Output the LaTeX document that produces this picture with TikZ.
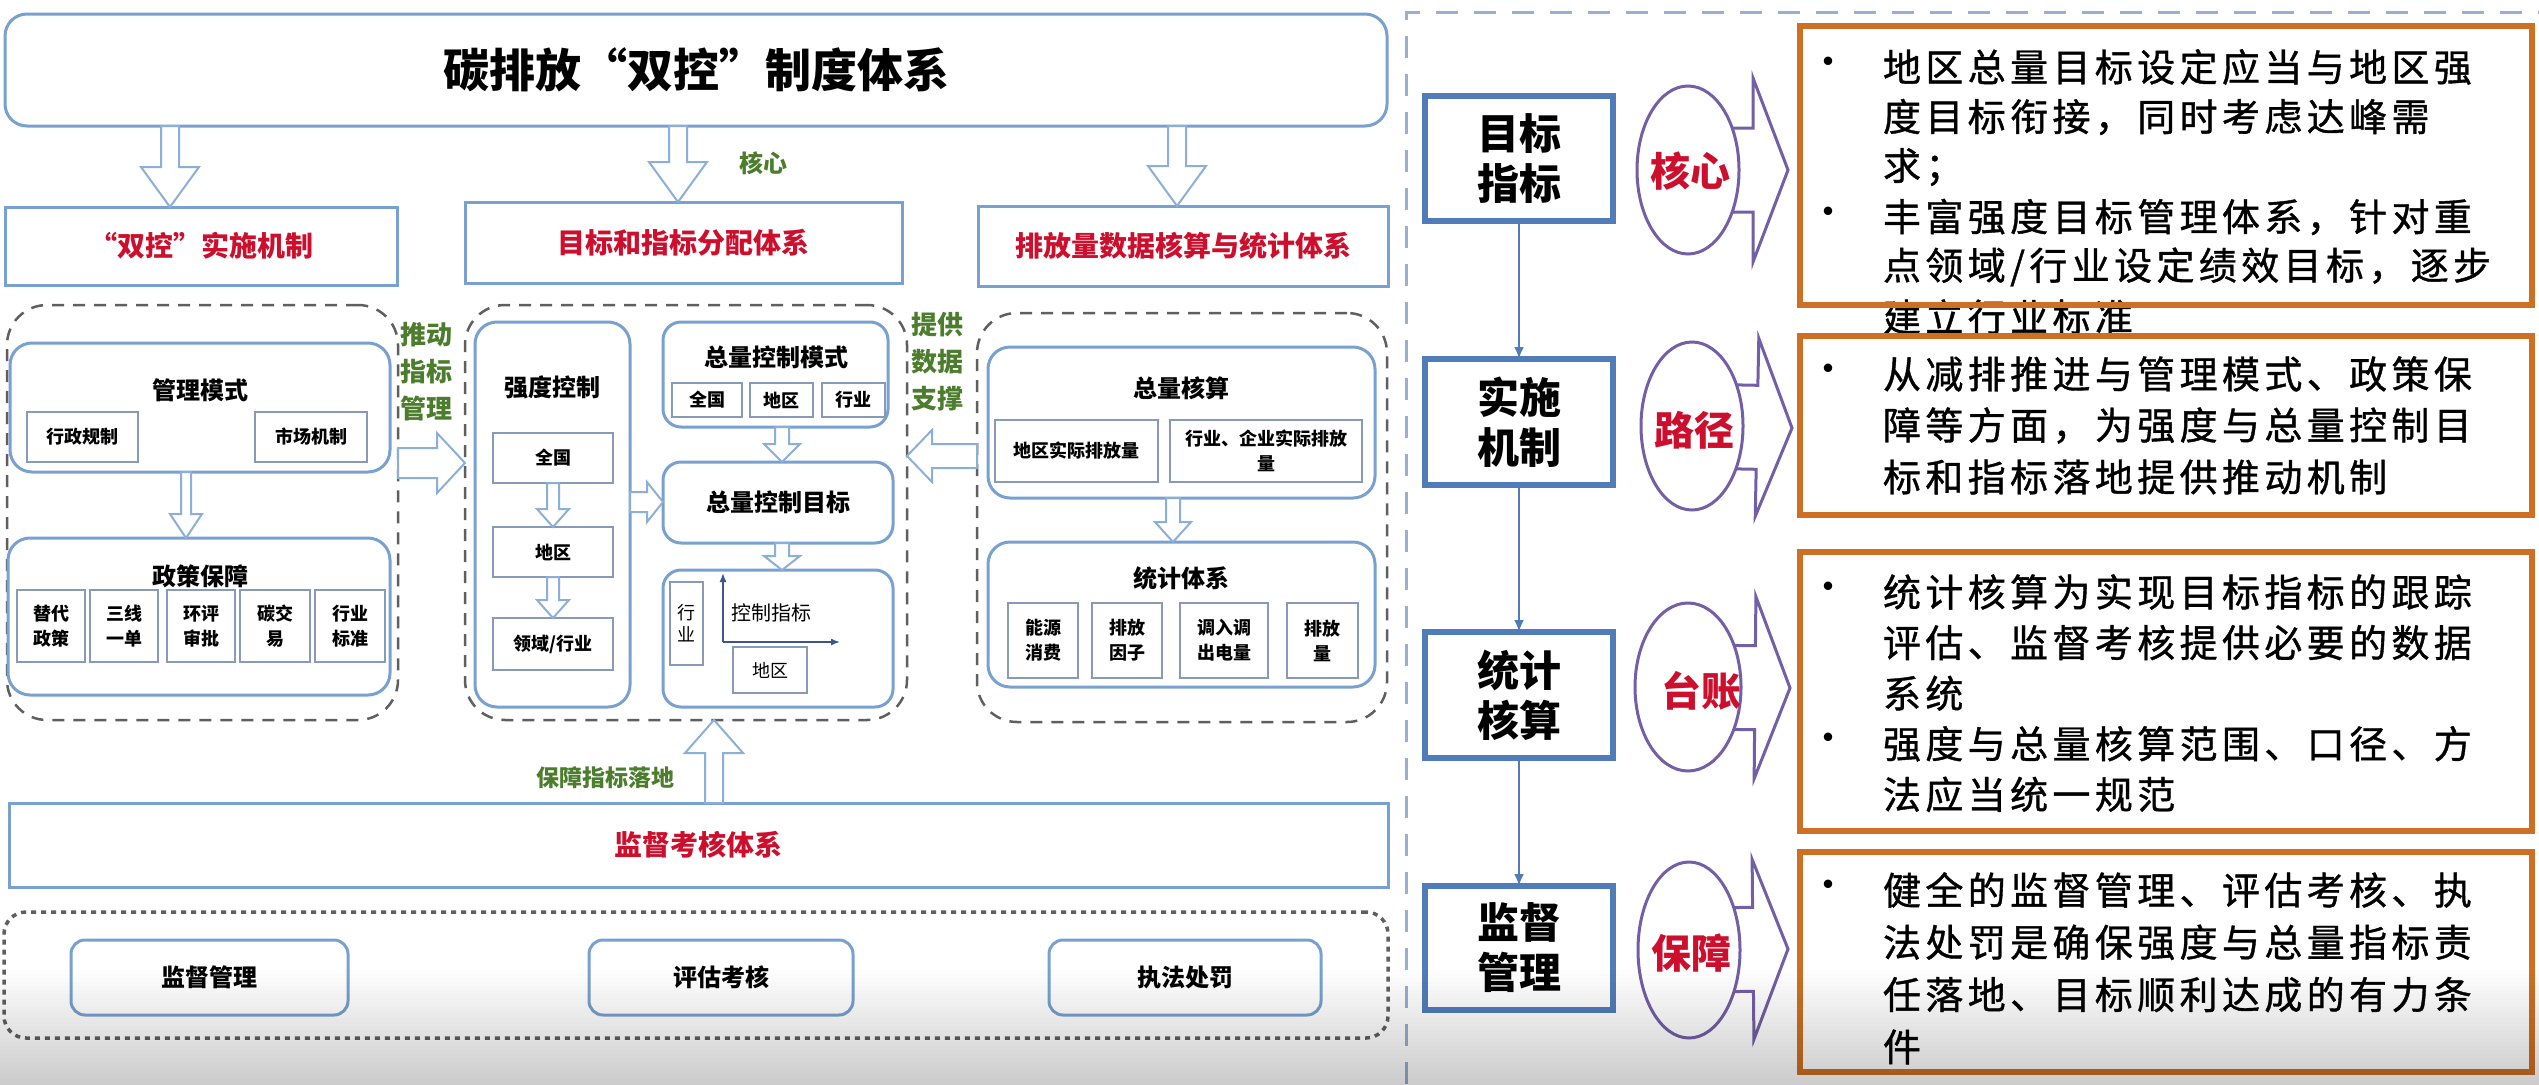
\documentclass[tikz,border=0pt]{standalone}
\usepackage{fontspec}
\setmainfont{Noto Sans CJK SC}
\newfontfamily\rfont{Noto Sans CJK SC}[FakeBold=1,LetterSpace=11.5]
\usetikzlibrary{calc,shapes.geometric,arrows.meta}
\definecolor{bl}{RGB}{120,160,208}
\definecolor{blA}{RGB}{140,175,215}
\definecolor{gbx}{RGB}{135,155,185}
\definecolor{dg}{RGB}{95,95,95}
\definecolor{rd}{RGB}{205,15,45}
\definecolor{gn}{RGB}{75,125,45}
\definecolor{bb}{RGB}{80,125,185}
\definecolor{og}{RGB}{205,112,35}
\definecolor{pu}{RGB}{115,95,165}
\definecolor{sepc}{RGB}{150,175,210}
\definecolor{axc}{RGB}{60,85,140}
\newcommand\F[2]{\fontsize{#1}{#2}\selectfont}
% box from corners: style, name, x1, y1, x2, y2, text
\newcommand\bx[7]{\node[#1, minimum width={(#5-#3)*1pt}, minimum height={(#6-#4)*1pt}] (#2) at ({(#3+#5)/2},{(#4+#6)/2}) {#7};}
% hollow block arrow: start, tip, half shaft, half head, head length, style
\newcommand\blk[6]{%
  \coordinate (bS) at #1; \coordinate (bE) at #2;
  \coordinate (bH) at ($(bE)!#5!(bS)$);
  \draw[#6] ($(bS)!#3!90:(bE)$) -- ($(bH)!#3!-90:(bS)$) -- ($(bH)!#4!-90:(bS)$) -- (bE)
    -- ($(bH)!#4!90:(bS)$) -- ($(bH)!#3!90:(bS)$) -- ($(bS)!#3!-90:(bE)$) -- cycle;}
\tikzset{
 every node/.style={inner sep=0pt, outer sep=0pt},
 ttl/.style={draw=bl, line width=3pt, rounded corners=22pt, fill=white, font={\F{46}{50}\bfseries}},
 hdr/.style={draw=bl, line width=3pt, fill=white, font={\F{28}{32}\bfseries}, text=rd},
 cont/.style={draw=dg, line width=2.5pt, dash pattern=on 12pt off 9pt, rounded corners=40pt},
 dotc/.style={draw=dg, line width=3.5pt, dash pattern=on 5pt off 5pt, rounded corners=22pt},
 rbox/.style={draw=bl, line width=3pt, rounded corners=22pt, fill=white},
 sbox/.style={draw=gbx, line width=1.6pt, fill=white, font={\F{18}{25}\bfseries}, align=center},
 sreg/.style={sbox, font={\F{18}{22}}},
 h24/.style={font={\F{24}{28}\bfseries}},
 grn/.style={text=gn, font={\F{26}{37}\bfseries}, align=center},
 blk/.style={draw=blA, line width=2pt, fill=white, line join=miter},
 parr/.style={draw=pu, line width=3pt, fill=white, line join=miter},
 axl/.style={draw=axc, line width=1.6pt, -{Latex[length=9pt,width=7pt]}},
 rb/.style={draw=bb, line width=6pt, fill=white, font={\F{42}{50}\bfseries}, align=center},
 bbl/.style={draw=bb, line width=2.5pt, -{Latex[length=12pt,width=10pt]}},
 ell/.style={ellipse, draw=pu, line width=3pt, fill=white, minimum width=102pt, minimum height=168pt},
 red40/.style={text=rd, font={\F{40}{44}\bfseries}},
 ob/.style={draw=og, line width=6pt},
 rtxt/.style={font={\rfont\F{38}{49}}, anchor=west},
 bul/.style={font={\F{40}{49}}, anchor=center}
}
\begin{document}
\begin{tikzpicture}[x=1pt,y=-1pt]
\fill[white] (0,0) rectangle (2539,1084);
\useasboundingbox (0,0) rectangle (2539,1084);

% ---------- left: top level ----------
\bx{ttl}{title}{5}{14}{1387}{126}{碳排放“双控”制度体系}
\bx{hdr}{h1}{5}{207}{397}{285}{“双控”实施机制}
\bx{hdr}{h2}{465}{202}{902}{283}{目标和指标分配体系}
\bx{hdr}{h3}{978}{206}{1388}{286}{排放量数据核算与统计体系}
\coordinate (a1) at (170,0);
\coordinate (a2) at (678,0);
\coordinate (a3) at (1177,0);
\blk{(a1 |- title.south)}{(a1 |- h1.north)}{9pt}{29pt}{40pt}{blk}
\blk{(a2 |- title.south)}{(a2 |- h2.north)}{9pt}{29pt}{40pt}{blk}
\blk{(a3 |- title.south)}{(a3 |- h3.north)}{9pt}{29pt}{40pt}{blk}
\node[grn, font={\F{24}{28}\bfseries}] (kx) at (763,163) {核心};

% ---------- left container ----------
\bx{cont}{lc}{7}{305}{398}{720}{}
\bx{rbox}{mg}{10}{343}{390}{472}{}
\node[h24] (mgt) at (200,390) {管理模式};
\bx{sbox}{xz}{27}{412}{138}{462}{行政规制}
\bx{sbox}{sc}{255}{412}{367}{462}{市场机制}
\bx{rbox}{pol}{8}{538}{390}{695}{}
\node[h24] (polt) at (200,576) {政策保障};
\bx{sbox}{p1}{17}{590}{85}{662}{替代\\政策}
\bx{sbox}{p2}{90}{590}{158}{662}{三线\\一单}
\bx{sbox}{p3}{167}{590}{235}{662}{环评\\审批}
\bx{sbox}{p4}{240}{590}{310}{662}{碳交\\易}
\bx{sbox}{p5}{315}{590}{385}{662}{行业\\标准}
\coordinate (a4) at (186,0);
\blk{(a4 |- mg.south)}{(a4 |- pol.north)}{5pt}{16pt}{24pt}{blk}
\node[grn] (td) at (426,372) {推动\\指标\\管理};

% ---------- middle container ----------
\bx{cont}{mc}{465}{305}{907}{720}{}
\coordinate (a5) at (0,463);
\blk{(lc.east |- a5)}{(mc.west |- a5)}{15pt}{30pt}{28pt}{blk}
\bx{rbox}{qd}{475}{322}{630}{707}{}
\node[h24] (qdt) at (552,387) {强度控制};
\bx{sbox}{q1}{493}{433}{613}{483}{全国}
\bx{sbox}{q2}{493}{527}{613}{577}{地区}
\bx{sbox}{q3}{493}{618}{613}{670}{领域/行业}
\coordinate (a6) at (553,0);
\blk{(a6 |- q1.south)}{(a6 |- q2.north)}{6pt}{16pt}{18pt}{blk}
\blk{(a6 |- q2.south)}{(a6 |- q3.north)}{6pt}{16pt}{18pt}{blk}
\bx{rbox, rounded corners=18pt}{zm}{663}{322}{888}{427}{}
\node[h24] (zmt) at (776,357) {总量控制模式};
\bx{sbox}{z1}{672}{383}{742}{417}{全国}
\bx{sbox}{z2}{750}{383}{813}{417}{地区}
\bx{sbox}{z3}{822}{383}{885}{417}{行业}
\bx{rbox, rounded corners=18pt, h24}{zg}{663}{462}{893}{543}{总量控制目标}
\bx{rbox, rounded corners=18pt}{zb}{663}{570}{893}{707}{}
\coordinate (a7) at (782,0);
\blk{(a7 |- zm.south)}{(a7 |- zg.north)}{7pt}{18pt}{18pt}{blk}
\blk{(a7 |- zg.south)}{(a7 |- zb.north)}{7pt}{18pt}{14pt}{blk}
\coordinate (a8) at (0,502);
\blk{(qd.east |- a8)}{(zg.west |- a8)}{10pt}{20pt}{16pt}{blk}
\bx{sreg}{zi}{670}{582}{703}{665}{行\\业}
\coordinate (ax0) at (723,642);
\coordinate (axy) at (723,573);
\coordinate (axx) at (840,642);
\draw[axl] (ax0) -- (axy);
\draw[axl] (ax0) -- (axx);
\node[font={\F{20}{24}}] (kz) at (771,613) {控制指标};
\bx{sreg}{zd}{733}{647}{807}{693}{地区}

% ---------- right container ----------
\bx{cont}{rc}{977}{313}{1387}{722}{}
\node[grn] (tg) at (937,362) {提供\\数据\\支撑};
\coordinate (a9) at (0,456);
\blk{(rc.west |- a9)}{(mc.east |- a9)}{12pt}{26pt}{25pt}{blk}
\bx{rbox}{hs}{988}{347}{1375}{498}{}
\node[h24] (hst) at (1181,388) {总量核算};
\bx{sbox}{hs1}{995}{420}{1158}{482}{地区实际排放量}
\bx{sbox}{hs2}{1170}{420}{1362}{482}{行业、企业实际排放\\量}
\bx{rbox}{tj}{988}{542}{1375}{687}{}
\node[h24] (tjt) at (1181,578) {统计体系};
\bx{sbox}{t1}{1008}{603}{1078}{678}{能源\\消费}
\bx{sbox}{t2}{1092}{603}{1162}{678}{排放\\因子}
\bx{sbox}{t3}{1180}{603}{1268}{678}{调入调\\出电量}
\bx{sbox}{t4}{1287}{603}{1358}{678}{排放\\量}
\coordinate (a10) at (1173,0);
\blk{(a10 |- hs.south)}{(a10 |- tj.north)}{7pt}{18pt}{20pt}{blk}

% ---------- bottom ----------
\bx{hdr}{jd}{9}{803}{1388}{887}{监督考核体系}
\coordinate (a11) at (714,0);
\blk{(a11 |- jd.north)}{(a11 |- mc.south)}{9pt}{29pt}{33pt}{blk}
\node[grn, font={\F{23}{26}\bfseries}] (bz) at (605,778) {保障指标落地};
\bx{dotc}{dc}{4}{912}{1388}{1038}{}
\bx{rbox, rounded corners=14pt, h24}{d1}{71}{940}{348}{1015}{监督管理}
\bx{rbox, rounded corners=14pt, h24}{d2}{589}{940}{853}{1015}{评估考核}
\bx{rbox, rounded corners=14pt, h24}{d3}{1049}{940}{1321}{1015}{执法处罚}

% ---------- right panel ----------
\draw[sepc, line width=3pt, dash pattern=on 22pt off 16pt] (1406,1084) -- (1406,12) -- (2539,12);
\bx{rb}{b1}{1425}{96}{1613}{221}{目标\\指标}
\bx{rb}{b2}{1425}{359}{1613}{485}{实施\\机制}
\bx{rb}{b3}{1425}{632}{1613}{758}{统计\\核算}
\bx{rb}{b4}{1425}{886}{1613}{1010}{监督\\管理}
\draw[bbl] (b1) -- (b2);
\draw[bbl] (b2) -- (b3);
\draw[bbl] (b3) -- (b4);

\coordinate (c1) at (1688,170); \coordinate (p1) at (1788,170);
\coordinate (c2) at (1692,426); \coordinate (p2) at (1792,428);
\coordinate (c3) at (1688,687); \coordinate (p3) at (1790,688);
\coordinate (c4) at (1689,950); \coordinate (p4) at (1788,949);
\blk{(c1)}{(p1)}{42pt}{92pt}{35pt}{parr}
\blk{(c2)}{(p2)}{42pt}{89pt}{35pt}{parr}
\blk{(c3)}{(p3)}{42pt}{91pt}{35pt}{parr}
\blk{(c4)}{(p4)}{42pt}{90pt}{35pt}{parr}
\node[ell] (e1) at (c1) {};
\node[ell] (e2) at (c2) {};
\node[ell, minimum width=106pt] (e3) at (c3) {};
\node[ell, minimum height=176pt] (e4) at (c4) {};
\node[red40] (k1) at (1690,171) {核心};
\node[red40] (k2) at (1694,430) {路径};
\node[red40] (k3) at (1701,691) {台账};
\node[red40] (k4) at (1691,953) {保障};

% orange box 1 (text first, overflowing)
\foreach \t [count=\i] in {{地区总量目标设定应当与地区强},{度目标衔接，同时考虑达峰需},{求；},{丰富强度目标管理体系，针对重},{点领域/行业设定绩效目标，逐步},{建立行业标准}}
  \node[rtxt] (oa\i) at (1883,{67+(\i-1)*50}) {\t};
\node[bul] (ba1) at (1828,67) {•};
\node[bul] (ba2) at (1828,217) {•};
\bx{ob}{o1}{1800}{26}{2532}{305}{}
% orange box 2
\bx{ob, fill=white}{o2}{1800}{336}{2532}{515}{}
\foreach \t [count=\i] in {{从减排推进与管理模式、政策保},{障等方面，为强度与总量控制目},{标和指标落地提供推动机制}}
  \node[rtxt] (ob\i) at (1883,{374+(\i-1)*51.5}) {\t};
\node[bul] (bb1) at (1828,374) {•};
% orange box 3
\bx{ob, fill=white}{o3}{1800}{552}{2532}{831}{}
\foreach \t [count=\i] in {{统计核算为实现目标指标的跟踪},{评估、监督考核提供必要的数据},{系统},{强度与总量核算范围、口径、方},{法应当统一规范}}
  \node[rtxt] (oc\i) at (1883,{592+(\i-1)*50.6}) {\t};
\node[bul] (bc1) at (1828,592) {•};
\node[bul] (bc2) at (1828,743) {•};
% orange box 4
\bx{ob, fill=white}{o4}{1800}{852}{2532}{1072}{}
\foreach \t [count=\i] in {{健全的监督管理、评估考核、执},{法处罚是确保强度与总量指标责},{任落地、目标顺利达成的有力条},{件}}
  \node[rtxt] (od\i) at (1883,{890+(\i-1)*52.3}) {\t};
\node[bul] (bd1) at (1828,890) {•};

% bottom darkening of the screenshot
\foreach \k [evaluate=\k as \op using 0.007*\k] in {0,...,29}
  \fill[black, opacity=\op] (0,{966+4*\k}) rectangle (2539,{970+4*\k});
\end{tikzpicture}
\end{document}
